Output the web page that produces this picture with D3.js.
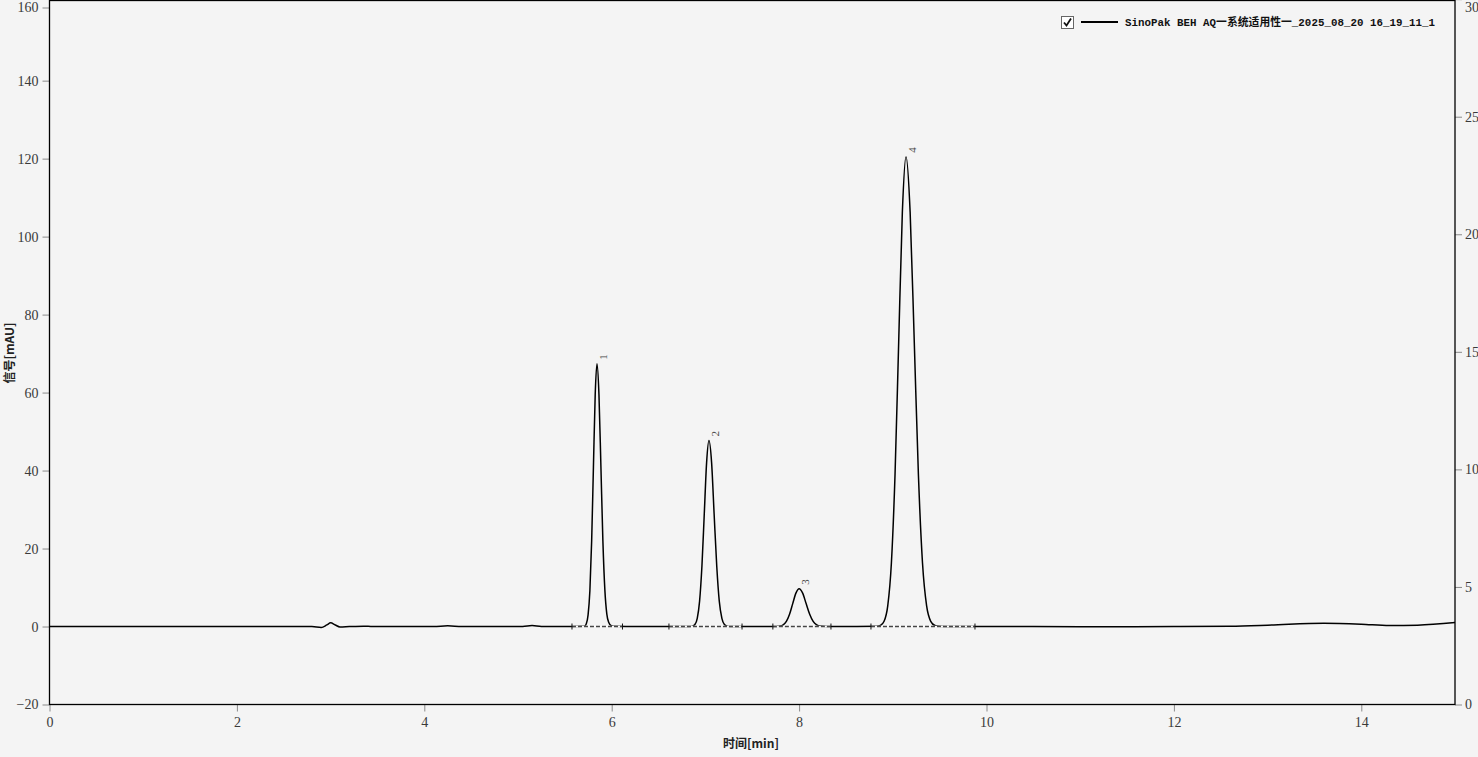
<!DOCTYPE html>
<html>
<head>
<meta charset="utf-8">
<script src="https://cdn.jsdelivr.net/npm/d3@7"></script>
<style>
  body { margin: 0; background: #f4f4f4; }
  svg { display: block; }
</style>
</head>
<body>
<div id="chart"></div>
<script>
// chromatogram trace (time in min, signal in mAU)
const traceTime = [
  0, 1.0, 2.0, 2.8, 2.9, 2.96, 3.0, 3.05, 3.1, 3.2, 3.35, 3.45, 4.1, 4.25, 4.4, 5.05, 5.15, 5.25,
  5.71, 5.729, 5.748, 5.767, 5.786, 5.805, 5.824, 5.843, 5.864, 5.885, 5.906, 5.927, 5.948, 5.969, 5.99, 6.02,
  6.3, 6.838, 6.863, 6.888, 6.913, 6.938, 6.963, 6.988, 7.013, 7.038, 7.066, 7.093, 7.121, 7.148, 7.176, 7.203, 7.231, 7.26,
  7.728, 7.762, 7.796, 7.83, 7.864, 7.898, 7.932, 7.966, 8.0, 8.038, 8.075, 8.113, 8.15, 8.188, 8.225, 8.3,
  8.829, 8.868, 8.907, 8.946, 8.985, 9.024, 9.063, 9.102, 9.141, 9.185, 9.229, 9.273, 9.317, 9.361, 9.405, 9.449, 9.493, 9.55,
  10.0, 11.0, 12.0, 12.6, 13.0, 13.6, 14.0, 14.3, 14.6, 15.0
];
const traceSignal = [
  0, 0, 0, 0, -0.25, 0.4, 0.95, 0.4, -0.1, 0, 0.1, 0, 0, 0.2, 0, 0, 0.25, 0,
  0.05, 0.7, 3.0, 9.1, 21.9, 40.9, 59.5, 67.4, 59.5, 40.9, 21.9, 9.4, 3.2, 1.0, 0.3, 0.1,
  0, 0, 0.1, 0.5, 2.1, 6.5, 15.5, 28.9, 42.1, 47.7, 42.1, 28.9, 15.5, 6.5, 2.1, 0.5, 0.1, 0,
  0, 0.03, 0.11, 0.43, 1.31, 3.15, 5.88, 8.56, 9.7, 8.56, 5.88, 3.15, 1.31, 0.43, 0.11, 0,
  0.04, 0.27, 1.34, 5.29, 16.3, 39.1, 73.1, 106.3, 120.5, 106.3, 73.1, 39.1, 16.3, 5.29, 1.34, 0.27, 0.04, 0,
  0, -0.05, 0, 0.1, 0.35, 0.85, 0.6, 0.25, 0.35, 1.0
];

// integrated peaks
const peakNames = ["1", "2", "3", "4"];
const peakApexTime = [5.843, 7.038, 8.0, 9.141];
const peakApexSignal = [67.4, 47.7, 9.7, 120.5];
const peakStart = [5.576, 6.611, 7.72, 8.767];
const peakEnd = [6.115, 7.391, 8.34, 9.877];

const xTicks = [0, 2, 4, 6, 8, 10, 12, 14];
const leftTicks = [-20, 0, 20, 40, 60, 80, 100, 120, 140, 160];
const rightTicks = [0, 5, 10, 15, 20, 25, 30];
const legendLabel = "SinoPak BEH AQ一系统适用性一_2025_08_20 16_19_11_1";

const W = 1478, H = 757;
const plot = { left: 49.5, right: 1455, top: 1.5, bottom: 704.5 };

const x = d3.scaleLinear().domain([0, 15]).range([plot.left, plot.right]);
const y = d3.scaleLinear().domain([-20, 160.3]).range([plot.bottom, plot.top]);
const yRight = d3.scaleLinear().domain([0, 29.9]).range([plot.bottom, plot.top]);

const svg = d3.select("#chart").append("svg")
  .attr("width", W).attr("height", H);

svg.append("rect").attr("width", W).attr("height", H).attr("fill", "#f4f4f4");

const tickFont = "'Liberation Serif', 'DejaVu Serif', serif";

// axes
const gLeft = svg.append("g")
  .attr("transform", `translate(${plot.left},0)`)
  .call(d3.axisLeft(y).tickValues(leftTicks).tickSize(7).tickPadding(4));
gLeft.selectAll(".tick").filter(d => y(d) < 8)
  .attr("transform", "translate(0,8)");

const gRight = svg.append("g")
  .attr("transform", `translate(${plot.right},0)`)
  .call(d3.axisRight(yRight).tickValues(rightTicks).tickSize(7).tickPadding(3));
gRight.selectAll(".tick").filter(d => yRight(d) < 7)
  .select("text").attr("y", 0).attr("transform", `translate(0,${7 - yRight(30)})`);

const gBottom = svg.append("g")
  .attr("transform", `translate(0,${plot.bottom})`)
  .call(d3.axisBottom(x).tickValues(xTicks).tickSize(7).tickPadding(6));

[gLeft, gRight, gBottom].forEach(g => {
  g.attr("font-family", null);
  g.select(".domain").remove();
  g.selectAll(".tick line").attr("stroke", "#8a8a8a");
  g.selectAll(".tick text")
    .attr("fill", "#3a3a3a")
    .style("font-family", tickFont)
    .style("font-size", "14px");
});

// frame
svg.append("rect")
  .attr("x", plot.left).attr("y", plot.top - 1)
  .attr("width", plot.right - plot.left).attr("height", plot.bottom - plot.top + 1)
  .attr("fill", "none").attr("stroke", "#000").attr("stroke-width", 1.3);

// axis titles
svg.append("text")
  .attr("x", 751).attr("y", 748)
  .attr("text-anchor", "middle")
  .style("font-family", "'Noto Sans CJK SC', sans-serif")
  .style("font-size", "12px").style("font-weight", "bold")
  .attr("fill", "#222")
  .text("时间[min]");

svg.append("text")
  .attr("transform", "translate(14,353) rotate(-90)")
  .attr("text-anchor", "middle")
  .style("font-family", "'Noto Sans CJK SC', sans-serif")
  .style("font-size", "12px").style("font-weight", "bold")
  .attr("fill", "#222")
  .text("信号[mAU]");

// trace
const points = traceTime.map((t, i) => [t, traceSignal[i]]);
const line = d3.line()
  .x(d => x(d[0])).y(d => y(d[1]))
  .curve(d3.curveMonotoneX);

svg.append("path")
  .datum(points)
  .attr("d", line)
  .attr("fill", "none")
  .attr("stroke", "#000")
  .attr("stroke-width", 1.5)
  .attr("stroke-linejoin", "round");

// integration baselines
const gBase = svg.append("g");
peakNames.forEach((name, i) => {
  const x0 = x(peakStart[i]), x1 = x(peakEnd[i]), yb = y(0);
  gBase.append("line")
    .attr("x1", x0).attr("x2", x1).attr("y1", yb).attr("y2", yb)
    .attr("stroke", "#fff").attr("stroke-width", 1.5);
  gBase.append("line")
    .attr("x1", x0).attr("x2", x1).attr("y1", yb).attr("y2", yb)
    .attr("stroke", "#444").attr("stroke-width", 1.5)
    .attr("stroke-dasharray", "4,2");
  [x0, x1].forEach(xx => {
    gBase.append("line")
      .attr("x1", xx).attr("x2", xx).attr("y1", yb - 3).attr("y2", yb + 3)
      .attr("stroke", "#111").attr("stroke-width", 1);
  });
  // peak label, rotated
  svg.append("text")
    .attr("transform", `translate(${x(peakApexTime[i]) + 10},${y(peakApexSignal[i]) - 4}) rotate(-90)`)
    .attr("text-anchor", "start")
    .style("font-family", tickFont)
    .style("font-size", "11px")
    .attr("fill", "#444")
    .text(name);
});

// legend
const gLeg = svg.append("g");
gLeg.append("rect")
  .attr("x", 1061.5).attr("y", 16.5).attr("width", 12).attr("height", 12)
  .attr("fill", "#fff").attr("stroke", "#666");
gLeg.append("path")
  .attr("d", "M1064,22.5 L1066.5,25.5 L1071,18.5")
  .attr("fill", "none").attr("stroke", "#111").attr("stroke-width", 1.8);
gLeg.append("line")
  .attr("x1", 1081).attr("x2", 1118).attr("y1", 22).attr("y2", 22)
  .attr("stroke", "#000").attr("stroke-width", 2);
gLeg.append("text")
  .attr("x", 1125).attr("y", 26)
  .style("font-family", "'Liberation Mono', 'Noto Sans CJK SC', monospace")
  .style("font-size", "10.8px").style("font-weight", "bold")
  .attr("fill", "#111")
  .attr("textLength", 310)
  .attr("lengthAdjust", "spacing")
  .text(legendLabel);
</script>
</body>
</html>
